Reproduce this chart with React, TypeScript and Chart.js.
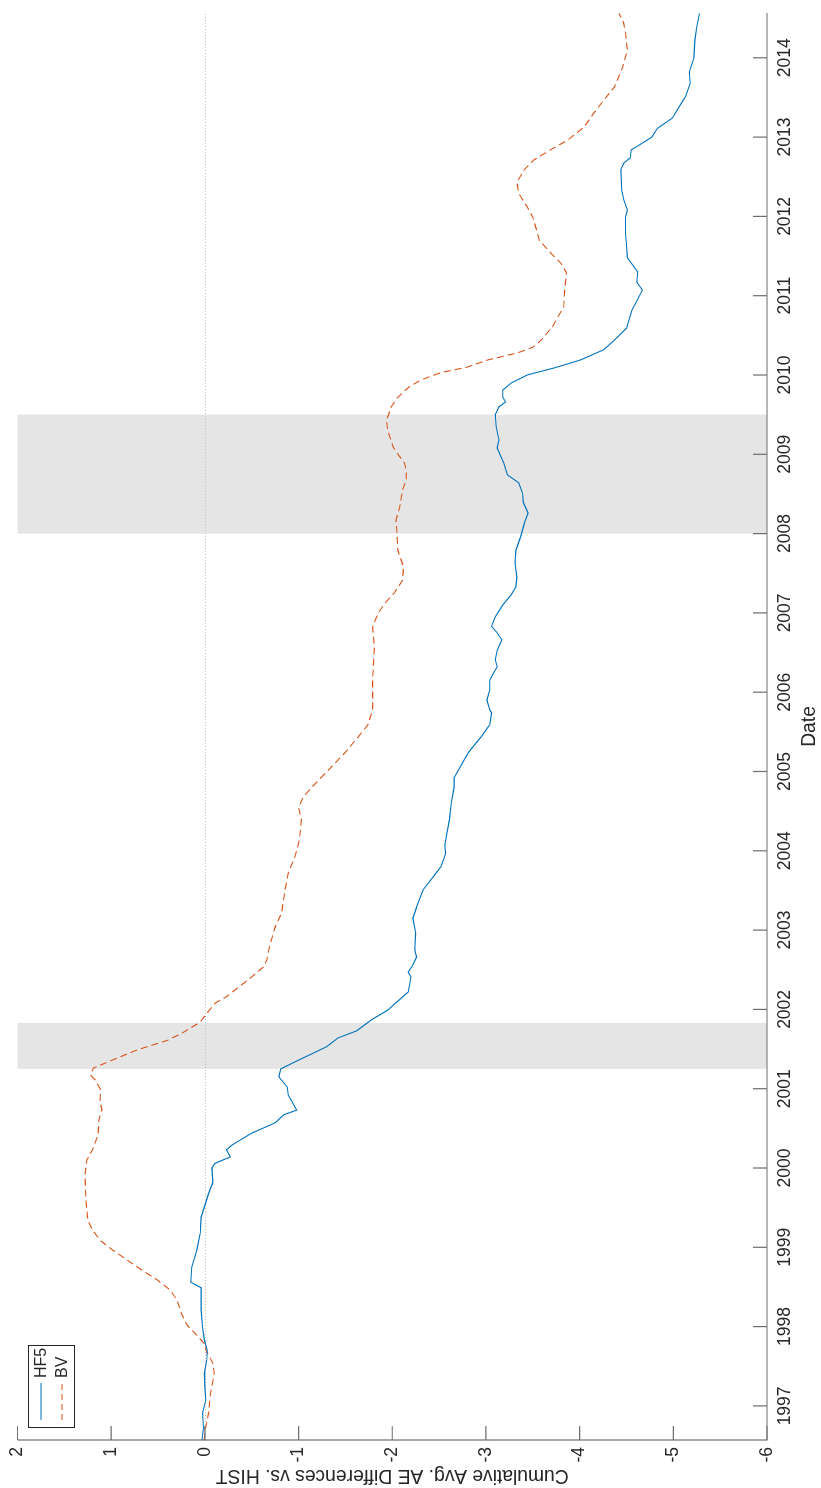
import React, { useEffect, useRef } from "react";
import { Chart, registerables } from "chart.js";

Chart.register(...registerables);

// ---------- data (decimal years) ----------
const hf5Dates = [
  1996.57, 1996.73, 1996.91, 1997.07, 1997.24, 1997.41, 1997.58, 1997.70, 1997.83, 1998.00,
  1998.21, 1998.34, 1998.49, 1998.56, 1998.75, 1998.97, 1999.18, 1999.38, 1999.53, 1999.68,
  1999.82, 2000.00, 2000.06, 2000.14, 2000.23, 2000.29, 2000.44, 2000.57, 2000.67, 2000.73,
  2000.92, 2001.02, 2001.15, 2001.25, 2001.36, 2001.53, 2001.64, 2001.73, 2001.87, 2001.99,
  2002.22, 2002.41, 2002.47, 2002.56, 2002.66, 2002.75, 2002.96, 2003.15, 2003.29, 2003.51,
  2003.66, 2003.80, 2003.97, 2004.07, 2004.39, 2004.60, 2004.80, 2004.92, 2005.11, 2005.25,
  2005.44, 2005.59, 2005.74, 2005.78, 2005.90, 2006.03, 2006.15, 2006.22, 2006.32, 2006.41,
  2006.53, 2006.66, 2006.75, 2006.83, 2006.95, 2007.10, 2007.23, 2007.33, 2007.45, 2007.63,
  2007.79, 2007.96, 2008.13, 2008.26, 2008.39, 2008.51, 2008.64, 2008.74, 2008.89, 2009.08,
  2009.18, 2009.34, 2009.50, 2009.60, 2009.66, 2009.72, 2009.81, 2009.90, 2010.00, 2010.09,
  2010.19, 2010.32, 2010.44, 2010.59, 2010.82, 2011.07, 2011.17, 2011.30, 2011.48, 2011.64,
  2011.79, 2011.99, 2012.08, 2012.21, 2012.33, 2012.59, 2012.67, 2012.74, 2012.84, 2012.88,
  2013.00, 2013.11, 2013.24, 2013.38, 2013.51, 2013.68, 2013.82, 2014.00, 2014.22, 2014.39,
  2014.56,
];
const hf5Values = [
  0.03, 0.015, 0.025, -0.01, 0.0, 0.005, -0.02, -0.025, 0.005, 0.025,
  0.04, 0.04, 0.04, 0.15, 0.14, 0.085, 0.05, 0.04, 0.0, -0.04,
  -0.085, -0.075, -0.11, -0.27, -0.23, -0.29, -0.5, -0.75, -0.84, -0.98,
  -0.89, -0.88, -0.79, -0.81, -1.0, -1.3, -1.42, -1.62, -1.78, -1.95,
  -2.17, -2.2, -2.17, -2.22, -2.26, -2.24, -2.25, -2.22, -2.26, -2.33,
  -2.43, -2.52, -2.57, -2.56, -2.61, -2.63, -2.66, -2.66, -2.75, -2.82,
  -2.95, -3.04, -3.06, -3.04, -3.01, -3.04, -3.04, -3.07, -3.12, -3.1,
  -3.12, -3.17, -3.12, -3.06, -3.1, -3.18, -3.27, -3.32, -3.33, -3.31,
  -3.32, -3.37, -3.41, -3.45, -3.4, -3.39, -3.35, -3.23, -3.19, -3.12,
  -3.14, -3.11, -3.1, -3.14, -3.21, -3.18, -3.18, -3.27, -3.44, -3.73,
  -4.01, -4.26, -4.37, -4.5, -4.56, -4.67, -4.61, -4.62, -4.51, -4.5,
  -4.49, -4.49, -4.51, -4.47, -4.45, -4.44, -4.47, -4.54, -4.55, -4.61,
  -4.77, -4.83, -4.99, -5.06, -5.13, -5.18, -5.17, -5.22, -5.23, -5.25,
  -5.28,
];

const bvDates = [
  1996.57, 1996.73, 1996.91, 1997.16, 1997.41, 1997.54, 1997.68, 1997.79, 1997.89, 1998.02,
  1998.15, 1998.34, 1998.46, 1998.59, 1998.71, 1998.84, 1998.97, 1999.09, 1999.22, 1999.34,
  1999.60, 1999.91, 2000.10, 2000.23, 2000.42, 2000.61, 2000.73, 2000.86, 2000.98, 2001.11,
  2001.17, 2001.26, 2001.36, 2001.49, 2001.61, 2001.70, 2001.84, 2001.95, 2002.08, 2002.16,
  2002.28, 2002.41, 2002.53, 2002.62, 2002.79, 2003.04, 2003.22, 2003.47, 2003.72, 2003.92,
  2004.14, 2004.39, 2004.55, 2004.68, 2004.80, 2005.02, 2005.23, 2005.44, 2005.59, 2005.78,
  2006.15, 2006.57, 2006.82, 2007.00, 2007.12, 2007.25, 2007.41, 2007.58, 2007.79, 2008.01,
  2008.17, 2008.34, 2008.55, 2008.68, 2008.80, 2008.89, 2008.97, 2009.09, 2009.31, 2009.43,
  2009.60, 2009.72, 2009.85, 2009.94, 2010.03, 2010.10, 2010.19, 2010.28, 2010.35, 2010.44,
  2010.61, 2010.86, 2011.07, 2011.29, 2011.41, 2011.54, 2011.70, 2011.79, 2011.99, 2012.12,
  2012.29, 2012.43, 2012.59, 2012.71, 2012.84, 2012.96, 2013.13, 2013.30, 2013.47, 2013.63,
  2013.85, 2014.10, 2014.31, 2014.44, 2014.56,
];
const bvValues = [
  0.01, -0.01, -0.04, -0.06, -0.1, -0.085, -0.02, 0.01, 0.085, 0.19,
  0.245, 0.3, 0.37, 0.51, 0.67, 0.83, 0.99, 1.12, 1.2, 1.25,
  1.27, 1.28, 1.26, 1.2, 1.14, 1.13, 1.1, 1.12, 1.11, 1.17,
  1.22, 1.19, 0.99, 0.72, 0.4, 0.245, 0.05, -0.02, -0.11, -0.23,
  -0.36, -0.5, -0.62, -0.66, -0.69, -0.75, -0.82, -0.85, -0.89, -0.96,
  -1.01, -1.03, -1.0, -1.05, -1.14, -1.32, -1.49, -1.64, -1.74, -1.79,
  -1.79, -1.81, -1.79, -1.85, -1.92, -2.02, -2.11, -2.12, -2.06, -2.05,
  -2.04, -2.08, -2.11, -2.15, -2.15, -2.13, -2.08, -2.01, -1.95, -1.94,
  -1.99, -2.06, -2.18, -2.31, -2.52, -2.8, -3.02, -3.34, -3.5, -3.59,
  -3.71, -3.83, -3.84, -3.86, -3.8, -3.69, -3.57, -3.55, -3.5, -3.44,
  -3.35, -3.33, -3.41, -3.51, -3.69, -3.87, -4.05, -4.15, -4.26, -4.37,
  -4.45, -4.51, -4.49, -4.47, -4.42,
];

const recessionStarts = [2001.25, 2008.0];
const recessionEnds = [2001.83, 2009.5];

const yearTicks = [
  1997, 1998, 1999, 2000, 2001, 2002, 2003, 2004, 2005, 2006, 2007, 2008, 2009,
  2010, 2011, 2012, 2013, 2014,
];
const valueTicks = [-6, -5, -4, -3, -2, -1, 0, 1, 2];
const seriesNames = ["HF5", "BV"];
const xTitle = "Date";
const yTitle = "Cumulative Avg. AE Differences vs. HIST";

// ---------- styling ----------
const FONT = "'Liberation Sans', Arial, Helvetica, sans-serif";
const TEXT = "#262626";
const AXIS = "#6e6e6e";
const BLUE = "#0072BD";
const ORANGE = "#D95319";
const W = 1488; // unrotated width (= page height)
const H = 821; // unrotated height (= page width)

const overlayPlugin = {
  id: "overlay",
  beforeDatasetsDraw(chart: any) {
    const { ctx, chartArea: a, scales } = chart;
    const x = scales.x;
    const y = scales.y;
    ctx.save();
    ctx.fillStyle = "#e5e5e5";
    recessionStarts.forEach((s, i) => {
      const x0 = x.getPixelForValue(s);
      const x1 = x.getPixelForValue(recessionEnds[i]);
      ctx.fillRect(x0, a.top, x1 - x0, a.bottom - a.top);
    });
    ctx.strokeStyle = "#bdbdbd";
    ctx.lineWidth = 1;
    ctx.setLineDash([1, 2]);
    const y0 = Math.round(y.getPixelForValue(0)) + 0.5;
    ctx.beginPath();
    ctx.moveTo(a.left, y0);
    ctx.lineTo(a.right, y0);
    ctx.stroke();
    ctx.restore();
  },
  afterDraw(chart: any) {
    const { ctx, chartArea: a, scales } = chart;
    const x = scales.x;
    const y = scales.y;
    ctx.save();
    // axis lines
    ctx.strokeStyle = AXIS;
    ctx.lineWidth = 1.2;
    ctx.setLineDash([]);
    ctx.beginPath();
    ctx.moveTo(a.left, a.top);
    ctx.lineTo(a.left, a.bottom);
    ctx.lineTo(a.right, a.bottom);
    ctx.stroke();
    // inward ticks
    const TL = 14;
    ctx.beginPath();
    yearTicks.forEach((v) => {
      const px = x.getPixelForValue(v);
      ctx.moveTo(px, a.bottom);
      ctx.lineTo(px, a.bottom - TL);
    });
    valueTicks.forEach((v) => {
      const py = y.getPixelForValue(v);
      ctx.moveTo(a.left, py);
      ctx.lineTo(a.left + TL, py);
    });
    ctx.stroke();

    // legend box
    const bx = a.left + 12;
    const by = 28;
    const bw = 82;
    const bh = 46;
    ctx.fillStyle = "#ffffff";
    ctx.fillRect(bx, by, bw, bh);
    ctx.strokeStyle = "#262626";
    ctx.lineWidth = 1;
    ctx.strokeRect(bx + 0.5, by + 0.5, bw, bh);
    const rows = [by + 13, by + 34];
    const colors = [BLUE, ORANGE];
    const dashes = [[], [6, 4]];
    ctx.font = `16px ${FONT}`;
    ctx.textBaseline = "middle";
    ctx.textAlign = "left";
    rows.forEach((ry, i) => {
      ctx.strokeStyle = colors[i];
      ctx.lineWidth = 1.1;
      ctx.setLineDash(dashes[i]);
      ctx.beginPath();
      ctx.moveTo(bx + 8, ry);
      ctx.lineTo(bx + 45, ry);
      ctx.stroke();
      ctx.setLineDash([]);
      ctx.fillStyle = TEXT;
      ctx.fillText(seriesNames[i], bx + 50, ry + 1);
    });
    ctx.restore();
  },
};

export default function App() {
  const canvasRef = useRef<HTMLCanvasElement | null>(null);

  useEffect(() => {
    const canvas = canvasRef.current;
    if (!canvas) return;
    const hfData = hf5Dates.map((d, i) => ({ x: d, y: hf5Values[i] }));
    const bvData = bvDates.map((d, i) => ({ x: d, y: bvValues[i] }));
    const chart = new Chart(canvas, {
      type: "line",
      data: {
        datasets: [
          {
            label: seriesNames[0],
            data: hfData,
            borderColor: BLUE,
            borderWidth: 1.1,
            pointRadius: 0,
            tension: 0,
            fill: false,
          },
          {
            label: seriesNames[1],
            data: bvData,
            borderColor: ORANGE,
            borderWidth: 1.1,
            borderDash: [7, 4],
            pointRadius: 0,
            tension: 0,
            fill: false,
          },
        ],
      },
      plugins: [overlayPlugin],
      options: {
        animation: false,
        responsive: false,
        maintainAspectRatio: false,
        devicePixelRatio: 1,
        events: [],
        layout: { padding: { left: 0, top: 15, right: 13, bottom: 0 } },
        plugins: {
          legend: { display: false },
          tooltip: { enabled: false },
        },
        scales: {
          x: {
            type: "linear",
            min: 1996.57,
            max: 2014.565,
            grid: { display: false, drawTicks: false },
            border: { display: false },
            afterBuildTicks: (scale: any) => {
              scale.ticks = yearTicks.map((v) => ({ value: v }));
            },
            afterFit: (scale: any) => {
              scale.height = 54;
            },
            ticks: {
              autoSkip: false,
              maxRotation: 0,
              minRotation: 0,
              padding: 8,
              color: TEXT,
              font: { family: FONT, size: 17.5 },
              callback: (v: any) => String(v),
            },
            title: {
              display: true,
              text: xTitle,
              color: TEXT,
              font: { family: FONT, size: 19.3 },
              padding: { top: 0, bottom: 0 },
            },
          },
          y: {
            type: "linear",
            min: -6,
            max: 2,
            grid: { display: false, drawTicks: false },
            border: { display: false },
            afterBuildTicks: (scale: any) => {
              scale.ticks = valueTicks.map((v) => ({ value: v }));
            },
            afterFit: (scale: any) => {
              scale.width = 48;
            },
            ticks: {
              padding: 7,
              color: TEXT,
              font: { family: FONT, size: 17.5 },
              callback: (v: any) => String(v),
            },
            title: {
              display: true,
              text: yTitle,
              color: TEXT,
              font: { family: FONT, size: 19.3 },
              padding: { top: 1, bottom: 0 },
            },
          },
        },
      },
    });
    return () => chart.destroy();
  }, []);

  return (
    <div
      style={{
        position: "fixed",
        left: 0,
        top: 0,
        width: H,
        height: W,
        overflow: "hidden",
        background: "#ffffff",
      }}
    >
      <div
        style={{
          position: "absolute",
          left: 0,
          top: 0,
          width: W,
          height: H,
          transformOrigin: "0 0",
          transform: `translate(0px, ${W}px) rotate(-90deg)`,
        }}
      >
        <canvas
          ref={canvasRef}
          width={W}
          height={H}
          style={{ display: "block", width: W, height: H }}
        />
      </div>
    </div>
  );
}
